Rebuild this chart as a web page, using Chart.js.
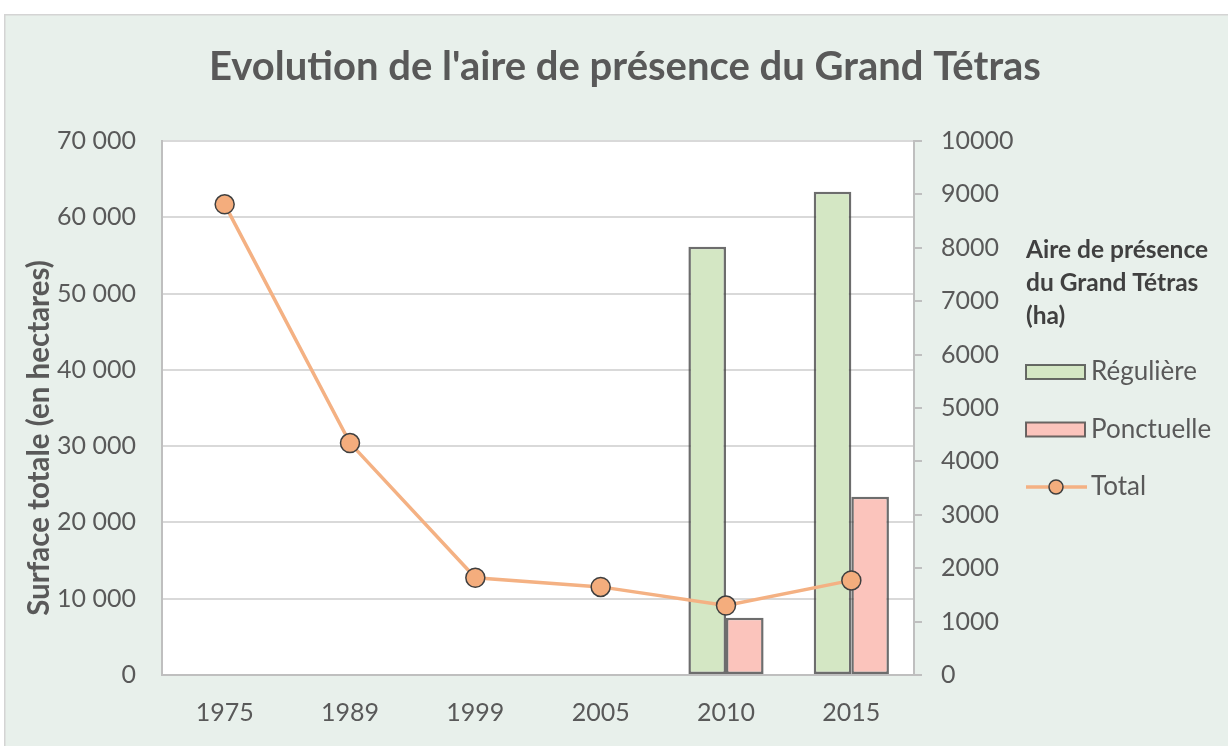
<!DOCTYPE html>
<html>
<head>
<meta charset="utf-8">
<script src="https://cdn.jsdelivr.net/npm/chart.js@4.4.1/dist/chart.umd.min.js"></script>
<style>
  html, body { margin: 0; padding: 0; background: #fff; }
  #zone { width: 1228px; height: 746px; }
</style>
</head>
<body>
<div id="zone"><canvas id="graphique" width="1228" height="746"></canvas></div>
<script>
// données
const annees = ['1975', '1989', '1999', '2005', '2010', '2015'];
const reguliere = [null, null, null, null, 8020, 9050];
const ponctuelle = [null, null, null, null, 1070, 3340];
const total = [61700, 30400, 12750, 11550, 9100, 12400];

const titre = "Evolution de l'aire de présence du Grand Tétras";
const titreAxe = 'Surface totale (en hectares)';
const titreLegende = ['Aire de présence', 'du Grand Tétras', '(ha)'];

const police = 'Lato';
const gris = '#595959';

function formatMilliers(v) {
  return String(v).replace(/\B(?=(\d{3})+(?!\d))/g, ' ');
}

// fond du cadre + zone de tracé blanche
const fond = {
  id: 'fond',
  beforeDraw(chart) {
    const ctx = chart.ctx;
    const a = chart.chartArea;
    ctx.save();
    ctx.fillStyle = '#ffffff';
    ctx.fillRect(0, 0, chart.width, chart.height);
    ctx.fillStyle = '#e8f0eb';
    ctx.fillRect(4, 14, chart.width - 4, chart.height - 14);
    ctx.fillStyle = '#d4d4d4';
    ctx.fillRect(4, 14, chart.width - 4, 1.5);
    ctx.fillRect(4, 14, 1.5, chart.height - 14);
    ctx.fillStyle = '#ffffff';
    ctx.fillRect(a.left, a.top, a.right - a.left, a.bottom - a.top);
    ctx.restore();
  }
};

// titre de l'axe gauche et légende à droite
const decor = {
  id: 'decor',
  afterDraw(chart) {
    const ctx = chart.ctx;
    ctx.save();
    ctx.translate(39, 438);
    ctx.rotate(-Math.PI / 2);
    ctx.font = 'bold 29.5px ' + police;
    ctx.fillStyle = gris;
    ctx.textAlign = 'center';
    ctx.textBaseline = 'middle';
    ctx.fillText(titreAxe, 0, 0);
    ctx.restore();

    ctx.save();
    const x0 = 1026;
    ctx.font = 'bold 24.5px ' + police;
    ctx.fillStyle = '#404040';
    ctx.textAlign = 'left';
    ctx.textBaseline = 'middle';
    titreLegende.forEach((t, i) => ctx.fillText(t, x0, 250 + i * 33));

    const ds = chart.data.datasets;
    const lignes = [ds[1], ds[2], ds[0]];
    ctx.font = '26px ' + police;
    lignes.forEach((d, i) => {
      const y = 372 + i * 57.5;
      if (d.type === 'bar') {
        ctx.fillStyle = d.backgroundColor;
        ctx.fillRect(x0, y - 7, 59, 14);
        ctx.strokeStyle = d.borderColor;
        ctx.lineWidth = 2;
        ctx.strokeRect(x0, y - 7, 59, 14);
      } else {
        ctx.strokeStyle = d.borderColor;
        ctx.lineWidth = 3.5;
        ctx.beginPath();
        ctx.moveTo(x0, y);
        ctx.lineTo(x0 + 61, y);
        ctx.stroke();
        ctx.beginPath();
        ctx.arc(x0 + 30, y, 7, 0, Math.PI * 2);
        ctx.fillStyle = d.pointBackgroundColor;
        ctx.fill();
        ctx.strokeStyle = d.pointBorderColor;
        ctx.lineWidth = 1.5;
        ctx.stroke();
      }
      ctx.fillStyle = gris;
      ctx.fillText(d.label, x0 + 65, y);
    });
    ctx.restore();
  }
};

const ctx = document.getElementById('graphique').getContext('2d');

new Chart(ctx, {
  data: {
    labels: annees,
    datasets: [
      {
        type: 'line',
        label: 'Total',
        data: total,
        yAxisID: 'y',
        borderColor: '#f4b183',
        borderWidth: 3.5,
        pointRadius: 9.5,
        pointBackgroundColor: '#f4ad7d',
        pointBorderColor: '#3f3f3f',
        pointBorderWidth: 1.5,
        tension: 0,
        order: 0
      },
      {
        type: 'bar',
        label: 'Régulière',
        data: reguliere,
        yAxisID: 'y1',
        backgroundColor: '#d4e7c4',
        borderColor: 'rgba(60, 60, 60, 0.75)',
        borderWidth: 2.5,
        borderSkipped: false,
        order: 1
      },
      {
        type: 'bar',
        label: 'Ponctuelle',
        data: ponctuelle,
        yAxisID: 'y1',
        backgroundColor: '#fbc4bc',
        borderColor: 'rgba(60, 60, 60, 0.75)',
        borderWidth: 2.5,
        borderSkipped: false,
        order: 1
      }
    ]
  },
  options: {
    responsive: false,
    animation: false,
    layout: { padding: { top: 14, left: 22, right: 0, bottom: 0 } },
    datasets: {
      bar: { categoryPercentage: 0.6, barPercentage: 1 }
    },
    plugins: {
      legend: { display: false },
      tooltip: { enabled: false },
      title: {
        display: true,
        text: titre,
        color: gris,
        font: { family: police, size: 40, weight: 'bold' },
        padding: { top: 29, bottom: 50 }
      }
    },
    scales: {
      x: {
        grid: { drawOnChartArea: false, drawTicks: false },
        border: { color: '#bfbfbf', width: 2 },
        ticks: { color: gris, font: { family: police, size: 25 }, padding: 23 },
        afterFit(scale) { scale.height = 71; }
      },
      y: {
        position: 'left',
        min: 0,
        max: 70000,
        grid: { color: '#d9d9d9', lineWidth: 2, drawTicks: false },
        border: { color: '#bfbfbf', width: 2 },
        ticks: {
          stepSize: 10000,
          color: gris,
          font: { family: police, size: 25 },
          padding: 26,
          callback: v => formatMilliers(v)
        },
        afterFit(scale) { scale.width = 140; }
      },
      y1: {
        position: 'right',
        min: 0,
        max: 10000,
        grid: { drawOnChartArea: false, drawTicks: true, tickLength: 8, color: '#bfbfbf', lineWidth: 2 },
        border: { color: '#bfbfbf', width: 2 },
        ticks: {
          stepSize: 1000,
          color: gris,
          font: { family: police, size: 25 },
          padding: 19,
          callback: v => String(v)
        },
        afterFit(scale) { scale.width = 314; }
      }
    }
  },
  plugins: [fond, decor]
});
</script>
</body>
</html>
